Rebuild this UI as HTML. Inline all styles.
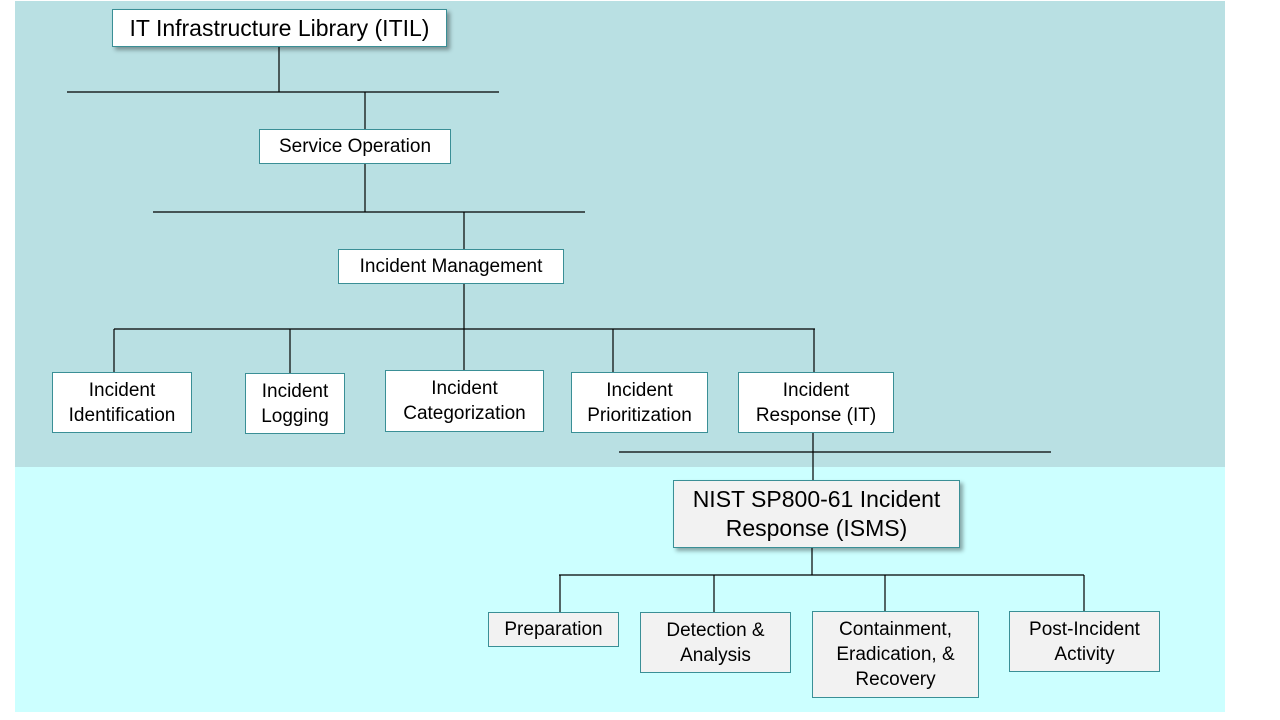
<!DOCTYPE html>
<html><head><style>
body{margin:0;width:1280px;height:720px;background:#fff;position:relative;overflow:hidden;font-family:"Liberation Sans",Arial,sans-serif;}
.bg1{position:absolute;left:15px;top:1px;width:1210px;height:466px;background:#b9e0e3;}
.bg2{position:absolute;left:15px;top:467px;width:1210px;height:245px;background:#ccffff;}
.b{position:absolute;box-sizing:border-box;border:1.5px solid #3a8f96;background:#fff;display:flex;align-items:center;justify-content:center;text-align:center;font-size:19px;line-height:25px;color:#000;white-space:nowrap;}
.g{background:#f2f2f2;}
.sh{box-shadow:3px 3px 4px rgba(0,0,0,0.35);}
svg{position:absolute;left:0;top:0;}
</style></head><body>
<div class="bg1"></div><div class="bg2"></div>
<svg width="1280" height="720" stroke="#000" stroke-width="1.2">
<line x1="67" y1="92" x2="499" y2="92"/><line x1="279" y1="47" x2="279" y2="92"/><line x1="365" y1="92" x2="365" y2="129"/>
<line x1="365" y1="164" x2="365" y2="212"/><line x1="153" y1="212" x2="585" y2="212"/><line x1="464" y1="212" x2="464" y2="249"/>
<line x1="464" y1="284" x2="464" y2="329"/><line x1="114" y1="329" x2="815" y2="329"/>
<line x1="114" y1="329" x2="114" y2="372"/><line x1="290" y1="329" x2="290" y2="373"/><line x1="464" y1="329" x2="464" y2="370"/><line x1="613" y1="329" x2="613" y2="372"/><line x1="814" y1="329" x2="814" y2="372"/>
<line x1="619" y1="452" x2="1051" y2="452"/><line x1="813" y1="433" x2="813" y2="480"/>
<line x1="812" y1="548" x2="812" y2="575"/><line x1="559" y1="575" x2="1084" y2="575"/>
<line x1="560" y1="575" x2="560" y2="612"/><line x1="714" y1="575" x2="714" y2="612"/><line x1="885" y1="575" x2="885" y2="611"/><line x1="1084" y1="575" x2="1084" y2="611"/>
</svg>
<div class="b sh" style="left:112px;top:9px;width:335px;height:38px;font-size:23px;">IT Infrastructure Library (ITIL)</div>
<div class="b" style="left:259px;top:129px;width:192px;height:35px;">Service Operation</div>
<div class="b" style="left:338px;top:249px;width:226px;height:35px;">Incident Management</div>
<div class="b" style="left:52px;top:372px;width:140px;height:61px;">Incident<br>Identification</div>
<div class="b" style="left:245px;top:373px;width:100px;height:61px;">Incident<br>Logging</div>
<div class="b" style="left:385px;top:370px;width:159px;height:62px;">Incident<br>Categorization</div>
<div class="b" style="left:571px;top:372px;width:137px;height:61px;">Incident<br>Prioritization</div>
<div class="b" style="left:738px;top:372px;width:156px;height:61px;">Incident<br>Response (IT)</div>
<div class="b g sh" style="left:673px;top:480px;width:287px;height:68px;font-size:23px;line-height:29px;">NIST SP800-61 Incident<br>Response (ISMS)</div>
<div class="b g" style="left:488px;top:612px;width:131px;height:35px;">Preparation</div>
<div class="b g" style="left:640px;top:612px;width:151px;height:61px;">Detection &amp;<br>Analysis</div>
<div class="b g" style="left:812px;top:611px;width:167px;height:87px;">Containment,<br>Eradication, &amp;<br>Recovery</div>
<div class="b g" style="left:1009px;top:611px;width:151px;height:61px;">Post-Incident<br>Activity</div>
</body></html>
